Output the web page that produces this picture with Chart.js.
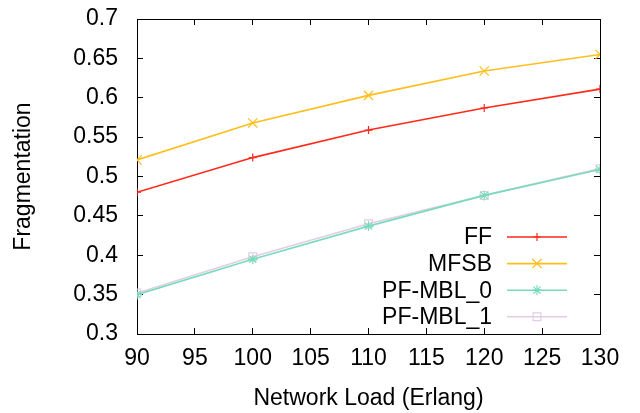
<!DOCTYPE html>
<html>
<head>
<meta charset="utf-8">
<script src="https://cdn.jsdelivr.net/npm/chart.js@4/dist/chart.umd.min.js"></script>
<style>
  html, body { margin: 0; padding: 0; background: #fff; }
  #wrap { width: 640px; height: 413px; }
</style>
</head>
<body>
<div id="wrap"><canvas id="fragChart"></canvas></div>
<script>
// data
const loads = [90, 100, 110, 120, 130];
const ff = [0.480, 0.524, 0.559, 0.587, 0.611];
const mfsb = [0.521, 0.568, 0.603, 0.634, 0.655];
const pfMbl0 = [0.350, 0.395, 0.437, 0.476, 0.509];
const pfMbl1 = [0.352, 0.398, 0.440, 0.476, 0.510];

const seriesNames = ['FF', 'MFSB', 'PF-MBL_0', 'PF-MBL_1'];
const xTicks = [90, 95, 100, 105, 110, 115, 120, 125, 130];
const yTicks = ['0.3', '0.35', '0.4', '0.45', '0.5', '0.55', '0.6', '0.65', '0.7'];

const FONT = "'Liberation Sans', Arial, sans-serif";
const FSIZE = 23;

function pts(vals) {
  return vals.map((v, i) => ({ x: loads[i], y: v }));
}

function makeSet(label, vals, color, style, r) {
  return {
    label: label,
    data: pts(vals),
    borderColor: color,
    backgroundColor: 'rgba(0,0,0,0)',
    borderWidth: 1.6,
    pointStyle: style,
    pointRadius: r,
    pointBorderColor: color,
    pointBackgroundColor: 'rgba(0,0,0,0)',
    pointBorderWidth: 1.2,
    tension: 0
  };
}

// inward tick marks (negative tickLength) and black border on every side
const tickGrid = { display: true, drawOnChartArea: false, drawTicks: true, tickLength: -6, color: '#000', lineWidth: 1 };
const blackBorder = { display: true, color: '#000', width: 1 };

// gnuplot-style key: text right aligned, sample to the right
const keyPlugin = {
  id: 'gnukey',
  afterDraw(chart) {
    const ctx = chart.ctx;
    const textRight = 492, lineL = 507, lineR = 567, top = 237, step = 26.6;
    ctx.save();
    ctx.font = FSIZE + 'px ' + FONT;
    ctx.textAlign = 'right';
    ctx.textBaseline = 'middle';
    chart.data.datasets.forEach((ds, i) => {
      const y = top + i * step;
      ctx.fillStyle = '#000';
      ctx.fillText(ds.label, textRight, y + 1);
      ctx.strokeStyle = ds.borderColor;
      ctx.lineWidth = ds.borderWidth;
      ctx.beginPath();
      ctx.moveTo(lineL, y); ctx.lineTo(lineR, y);
      ctx.stroke();
      if (Chart.helpers && Chart.helpers.drawPoint) {
        ctx.fillStyle = 'rgba(0,0,0,0)';
        ctx.strokeStyle = ds.pointBorderColor;
        ctx.lineWidth = ds.pointBorderWidth;
        Chart.helpers.drawPoint(ctx, {
          pointStyle: ds.pointStyle, radius: ds.pointRadius,
          borderWidth: ds.pointBorderWidth, rotation: 0
        }, (lineL + lineR) / 2, y);
      }
    });
    ctx.restore();
  }
};

new Chart(document.getElementById('fragChart').getContext('2d'), {
  type: 'line',
  data: {
    datasets: [
      makeSet(seriesNames[0], ff, '#ff2a1a', 'cross', 4),
      makeSet(seriesNames[1], mfsb, '#ffbe1a', 'crossRot', 6.5),
      makeSet(seriesNames[2], pfMbl0, '#78dcbc', 'star', 5),
      makeSet(seriesNames[3], pfMbl1, '#e2cde4', 'rect', 5.5)
    ]
  },
  options: {
    responsive: true,
    maintainAspectRatio: false,
    animation: false,
    layout: { padding: { left: 0, right: 40, top: 19, bottom: 0 } },
    plugins: { legend: { display: false }, tooltip: { enabled: false } },
    scales: {
      x: {
        type: 'linear',
        position: 'bottom',
        min: 90, max: 130,
        afterBuildTicks: s => { s.ticks = xTicks.map(v => ({ value: v })); },
        afterFit: s => { s.height = 79; },
        grid: tickGrid,
        border: blackBorder,
        ticks: { padding: 17, color: '#000', font: { family: FONT, size: FSIZE }, maxRotation: 0 },
        title: { display: true, text: 'Network Load (Erlang)', color: '#000',
          font: { family: FONT, size: FSIZE }, padding: { top: 0, bottom: 1 } }
      },
      xTop: {
        type: 'linear',
        position: 'top',
        min: 90, max: 130,
        afterBuildTicks: s => { s.ticks = xTicks.map(v => ({ value: v })); },
        afterFit: s => { s.height = 0; s.paddingLeft = 0; s.paddingRight = 0; },
        grid: tickGrid,
        border: blackBorder,
        ticks: { display: false }
      },
      y: {
        position: 'left',
        min: 0.3, max: 0.7,
        afterBuildTicks: s => { s.ticks = yTicks.map(v => ({ value: parseFloat(v) })); },
        afterFit: s => { s.width = 137; s.paddingTop = 0; s.paddingBottom = 0; },
        grid: tickGrid,
        border: blackBorder,
        ticks: { padding: 25, color: '#000', font: { family: FONT, size: FSIZE },
          callback: (v, i) => yTicks[i] },
        title: { display: true, text: 'Fragmentation', color: '#000',
          font: { family: FONT, size: FSIZE }, padding: { top: 10, bottom: 0 } }
      },
      yRight: {
        position: 'right',
        min: 0.3, max: 0.7,
        afterBuildTicks: s => { s.ticks = yTicks.map(v => ({ value: parseFloat(v) })); },
        afterFit: s => { s.width = 0; s.paddingTop = 0; s.paddingBottom = 0; },
        grid: tickGrid,
        border: blackBorder,
        ticks: { display: false }
      }
    }
  },
  plugins: [keyPlugin]
});
</script>
</body>
</html>
